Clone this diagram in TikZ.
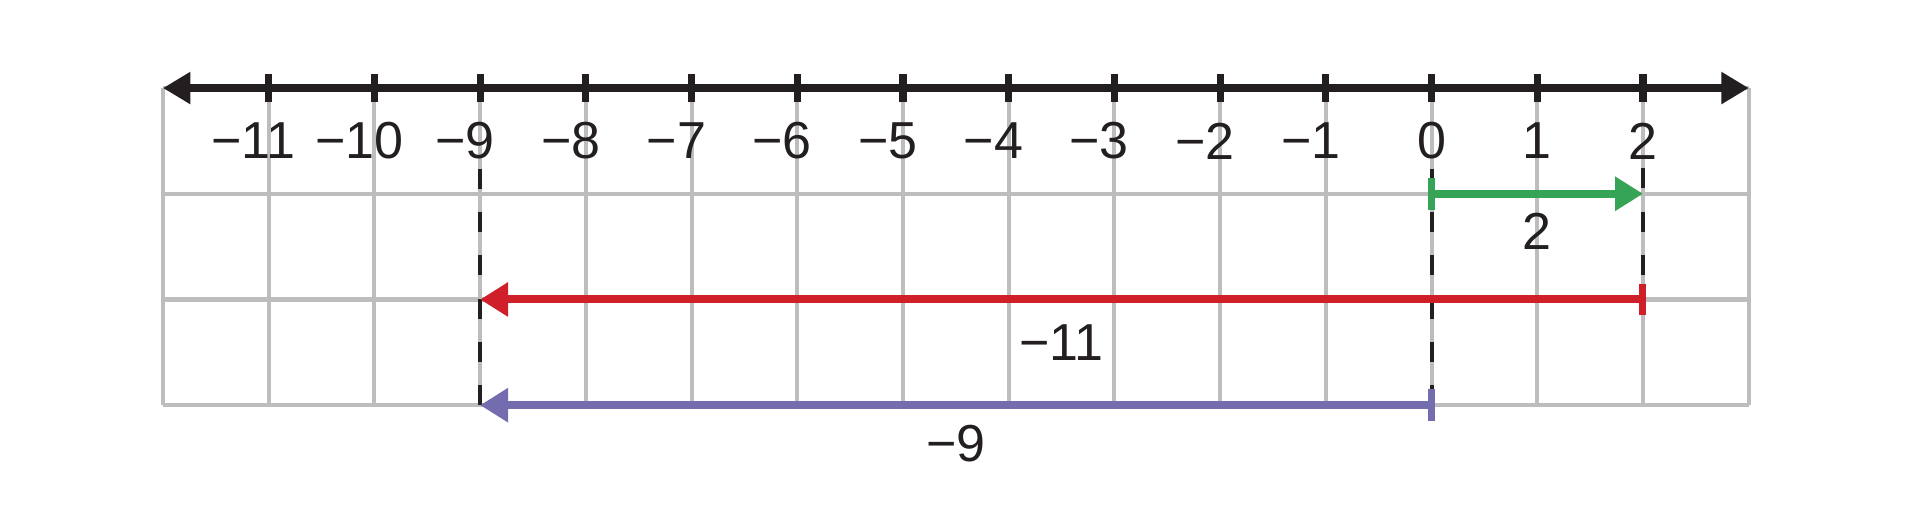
\documentclass[tikz,border=0pt]{standalone}
\usepackage{fontspec}
\setmainfont{Liberation Sans}
\usetikzlibrary{arrows.meta,positioning}

\definecolor{inkblack}{HTML}{231F20}
\definecolor{gridgray}{HTML}{BDBDBD}
\definecolor{segred}{HTML}{CF202A}
\definecolor{seggreen}{HTML}{35A457}
\definecolor{segpurple}{HTML}{736DB0}

\begin{document}
\begin{tikzpicture}[x=1cm, y=1cm,
  gridline/.style={gridgray, line width=1.1pt},
  numline/.style={inkblack, line width=2.15pt, {Triangle[length=0.26cm, width=0.29cm]}-{Triangle[length=0.26cm, width=0.29cm]}},
  tickmark/.style={inkblack, line width=1.9pt},
  numlabel/.style={font=\fontsize{14}{16}\selectfont, text=inkblack, inner sep=0.08cm},
  guide/.style={inkblack, line width=1.1pt, dash pattern=on 0.19cm off 0.22cm},
  seg/.style={line width=2.15pt, shorten <=-0.9pt, {Bar[width=0.3cm, line width=1.9pt]}-{Triangle[length=0.265cm, width=0.31cm]}},
  seglabel/.style={font=\fontsize{14}{16}\selectfont, text=inkblack, inner sep=0.08cm}]
\useasboundingbox (-13.542,0.833) rectangle (4.62,-4.087);
% grid behind everything
\draw[gridline] (-12,-3) grid (3,0);
% end points
\coordinate (nl) at (-12,0);
\coordinate (nr) at (3,0);
\coordinate (g0) at (0,-1);
\coordinate (g2) at (2,-1);
\coordinate (r2) at (2,-2);
\coordinate (r9) at (-9,-2);
\coordinate (b0) at (0,-3);
\coordinate (b9) at (-9,-3);
% number line
\draw[numline] (nl) -- (nr);
\foreach \i in {-11,...,2} \draw[tickmark] (\i,0.13) -- (\i,-0.13);
\foreach \i in {1,...,11} \node[numlabel] (lm\i) at (-\i,-0.5) {\llap{−}\i};
\foreach \i in {0,1,2} \node[numlabel] (lp\i) at (\i,-0.5) {\i};
% guides
\draw[guide] (lm9.south) -- (b9);
\draw[guide] (lp0.south) -- (b0);
\draw[guide] (lp2.south) -- (r2);
% segments
\draw[seg, seggreen] (g0) -- (g2) node[seglabel, midway, below=0.07cm] {2};
\draw[seg, segred] (r2) -- (r9) node[seglabel, midway, below=0.12cm] {−11};
\draw[seg, segpurple] (b0) -- (b9) node[seglabel, midway, below=0.07cm] {−9};
\end{tikzpicture}
\end{document}
